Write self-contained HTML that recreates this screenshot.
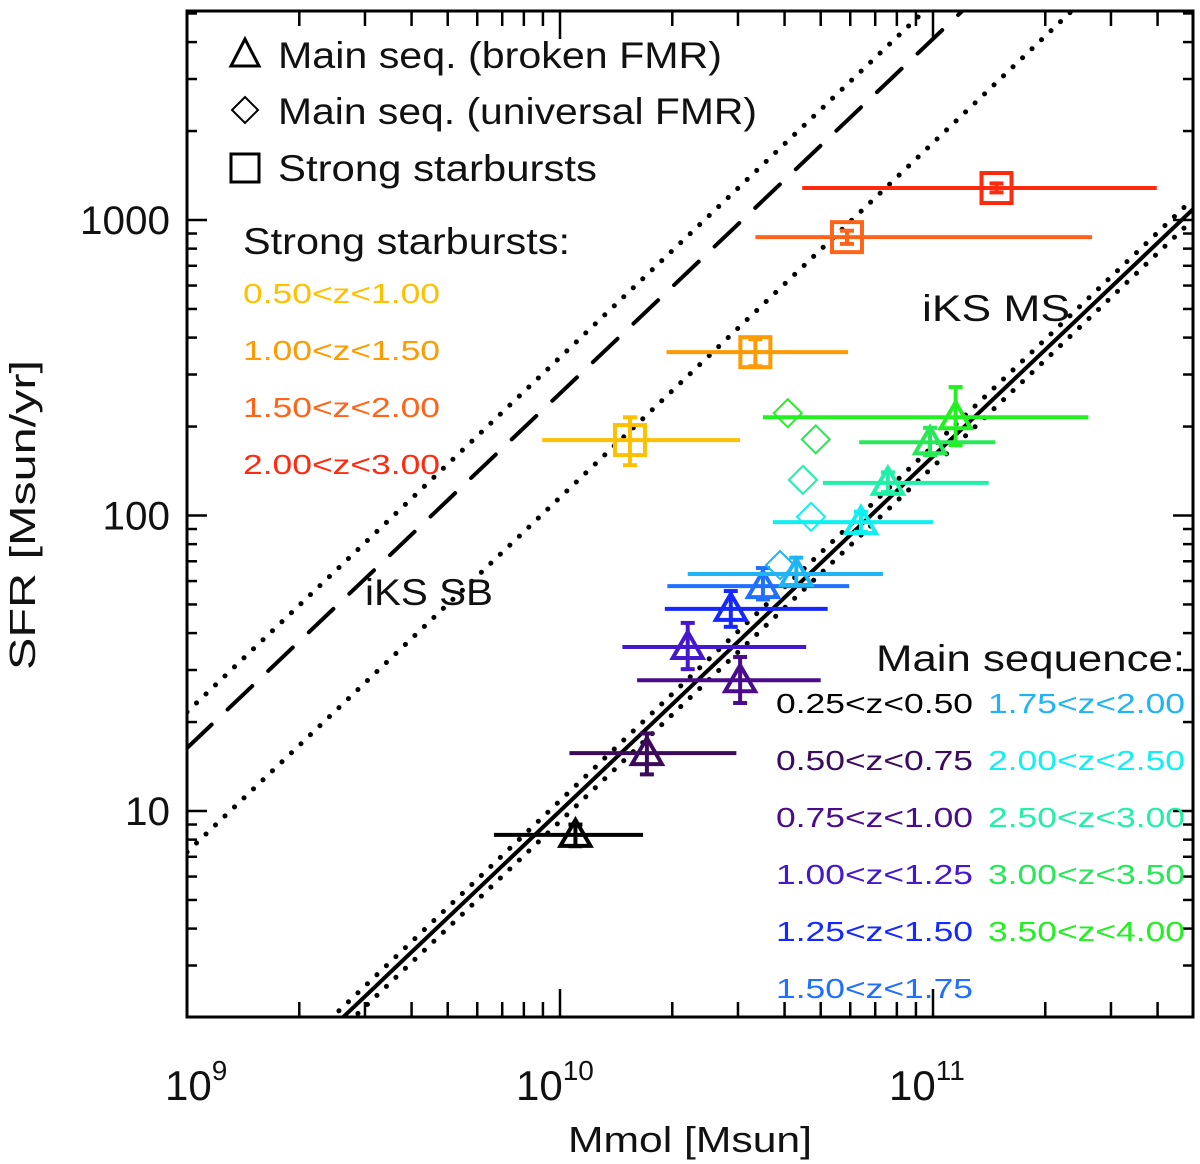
<!DOCTYPE html>
<html><head><meta charset="utf-8"><style>
html,body{margin:0;padding:0;background:#fff;}
svg{display:block;font-family:"Liberation Sans",sans-serif;}
</style></head>
<body>
<svg id="chart" width="1200" height="1164" viewBox="0 0 1200 1164" xmlns="http://www.w3.org/2000/svg">
<rect x="0" y="0" width="1200" height="1164" fill="#fff"/>
</svg>
<script>
// ---- data ----
const msLabels = ["0.25<z<0.50","0.50<z<0.75","0.75<z<1.00","1.00<z<1.25","1.25<z<1.50","1.50<z<1.75","1.75<z<2.00","2.00<z<2.50","2.50<z<3.00","3.00<z<3.50","3.50<z<4.00"];
const msColors = ["#000000","#3c0a5a","#4a0c8c","#4418cc","#1428ff","#2070ff","#20b4f4","#10f0f0","#20f0a8","#28e858","#22f020"];
const msMass = [1.10e10,1.71e10,3.04e10,2.20e10,2.87e10,3.50e10,4.30e10,6.41e10,7.57e10,9.82e10,1.15e11];
const msMassLo = [6.65e9,1.06e10,1.61e10,1.47e10,1.91e10,1.94e10,2.20e10,3.72e10,5.07e10,6.34e10,3.50e10];
const msMassHi = [1.67e10,2.97e10,5.0e10,4.57e10,5.22e10,5.96e10,7.34e10,1.0e11,1.41e11,1.47e11,2.61e11];
const msSFR = [8.3,15.7,27.7,35.9,48.3,57.7,63.4,95,129,177,215];
const msSFRLo = [7.6,13.3,23.2,30.2,42.0,52.0,58.0,88,120,160,173];
const msSFRHi = [9.0,18.3,33.2,43.3,55.5,66.4,72.0,103,140,198,272];
const diaMass = [3.89e10,4.71e10,4.48e10,4.85e10,4.08e10];
const diaSFR = [68,99,132,181,222];
const diaColors = ["#20b4f4","#10f0f0","#20f0a8","#28e858","#22f020"];
const sbLabels = ["0.50<z<1.00","1.00<z<1.50","1.50<z<2.00","2.00<z<3.00"];
const sbColors = ["#ffc000","#ff9a00","#ff6418","#ff2a10"];
const sbMass = [1.54e10,3.34e10,5.88e10,1.48e11];
const sbMassLo = [8.96e9,1.93e10,3.34e10,4.46e10];
const sbMassHi = [3.04e10,5.92e10,2.67e11,3.98e11];
const sbSFR = [180,357,875,1283];
const sbSFRLo = [148,320,830,1240];
const sbSFRHi = [215,395,920,1330];
const xTicks = [1e9,1e10,1e11];
const xTickExp = ["9","10","11"];
const yTicks = [10,100,1000];
const yTickLabels = ["10","100","1000"];
const lineSlope = 1.2;
const msIntercept = -11.0;
const sbIntercept = -9.587;
const dotUpperIntercept = -9.465;
const dotLowerIntercept = -9.939;

// ---- axes ----
const L=187,R=1193,T=11,B=1017;
const xMin=9, xDec=373, yRef=1, yRefPx=811, yDec=295.5;
const X=m=>L+(Math.log10(m)-xMin)*xDec;
const Y=s=>yRefPx-(Math.log10(s)-yRef)*yDec;
const lxMax=xMin+(R-L)/xDec;
const lyMin=yRef-(B-yRefPx)/yDec, lyMax=yRef+(yRefPx-T)/yDec;

const svg=document.getElementById('chart');
const NS="http://www.w3.org/2000/svg";
function mk(tag,attrs,parent){const e=document.createElementNS(NS,tag);for(const k in attrs)e.setAttribute(k,attrs[k]);(parent||svg).appendChild(e);return e;}

const defs=mk('defs',{});
const cp=mk('clipPath',{id:'plotclip'},defs);
mk('rect',{x:L,y:T,width:R-L,height:B-T},cp);
const plot=mk('g',{'clip-path':'url(#plotclip)'});



function relLine(icpt,dash,w,name){
  const x1=xMin,x2=lxMax;
  const e=mk('line',{x1:X(10**x1),y1:Y(10**(lineSlope*x1+icpt)),x2:X(10**x2),y2:Y(10**(lineSlope*x2+icpt)),stroke:'#000','stroke-width':w,'stroke-dasharray':dash,'stroke-linecap':'round'},plot);
  
  
}
relLine(dotUpperIntercept,'0.1 13',5,'sb-upper-dotted-line');
relLine(sbIntercept,'34 22',4,'iks-sb-dashed-line');
relLine(dotLowerIntercept,'0.1 13',5,'sb-lower-dotted-line');
relLine(msIntercept+0.035,'0.1 13',5,'ms-upper-dotted-line');
relLine(msIntercept-0.035,'0.1 13',5,'ms-lower-dotted-line');
relLine(msIntercept,'',4,'iks-ms-solid-line');

for(let i=0;i<msMass.length;i++){
  const g=mk('g',{stroke:msColors[i],'stroke-width':4,fill:'none'},plot);
  
  
  const cx=X(msMass[i]),cy=Y(msSFR[i]);
  mk('line',{x1:X(msMassLo[i]),y1:cy,x2:X(msMassHi[i]),y2:cy},g);
  mk('line',{x1:cx,y1:Y(msSFRLo[i]),x2:cx,y2:Y(msSFRHi[i])},g);
  mk('line',{x1:cx-7,y1:Y(msSFRLo[i]),x2:cx+7,y2:Y(msSFRLo[i])},g);
  mk('line',{x1:cx-7,y1:Y(msSFRHi[i]),x2:cx+7,y2:Y(msSFRHi[i])},g);
  mk('polygon',{points:`${cx},${cy-15} ${cx-15},${cy+11} ${cx+15},${cy+11}`},g);
}
for(let i=0;i<diaMass.length;i++){
  const cx=X(diaMass[i]),cy=Y(diaSFR[i]);
  const d=mk('polygon',{points:`${cx},${cy-14} ${cx+14},${cy} ${cx},${cy+14} ${cx-14},${cy}`,fill:'none',stroke:diaColors[i],'stroke-width':2},plot);
  
  
}
for(let i=0;i<sbMass.length;i++){
  const g=mk('g',{stroke:sbColors[i],'stroke-width':4,fill:'none'},plot);
  
  
  const cx=X(sbMass[i]),cy=Y(sbSFR[i]);
  mk('line',{x1:X(sbMassLo[i]),y1:cy,x2:X(sbMassHi[i]),y2:cy},g);
  mk('line',{x1:cx,y1:Y(sbSFRLo[i]),x2:cx,y2:Y(sbSFRHi[i])},g);
  mk('line',{x1:cx-7,y1:Y(sbSFRLo[i]),x2:cx+7,y2:Y(sbSFRLo[i])},g);
  mk('line',{x1:cx-7,y1:Y(sbSFRHi[i]),x2:cx+7,y2:Y(sbSFRHi[i])},g);
  mk('rect',{x:cx-15,y:cy-15,width:30,height:30},g);
}

const fr=mk('rect',{x:L,y:T,width:R-L,height:B-T,fill:'none',stroke:'#000','stroke-width':3});


const tk=mk('g',{stroke:'#000','stroke-width':2.5});


for(let d=9;d<=11;d++)for(let k=1;k<=9;k++){
  const lm=d+Math.log10(k); if(lm>lxMax)continue;
  const x=L+(lm-xMin)*xDec, len=k==1?28:15;
  mk('line',{x1:x,y1:B,x2:x,y2:B-len},tk);
  mk('line',{x1:x,y1:T,x2:x,y2:T+len},tk);
}
for(let d=0;d<=3;d++)for(let k=1;k<=9;k++){
  const ly=d+Math.log10(k); if(ly<lyMin||ly>lyMax)continue;
  const y=yRefPx-(ly-yRef)*yDec, len=k==1?20:10;
  mk('line',{x1:L,y1:y,x2:L+len,y2:y},tk);
  mk('line',{x1:R,y1:y,x2:R-len,y2:y},tk);
}
function txt(s,attrs,name,parent){const t=mk('text',attrs,parent);t.textContent=s;
  return t;}
for(let i=0;i<yTicks.length;i++){
  txt(yTickLabels[i],{x:170,y:Y(yTicks[i])+14,'font-size':40,'text-anchor':'end',fill:'#111',textLength:22.5*yTickLabels[i].length,lengthAdjust:'spacingAndGlyphs'},'y-tick-label');
}
for(let i=0;i<xTicks.length;i++){
  const x=X(xTicks[i]);
  const t=txt('10',{x:i==0?x-22:x-44,y:1100,'font-size':42,fill:'#111'},'x-tick-label');
  const e=mk('tspan',{dy:-20,'font-size':28},t);e.textContent=xTickExp[i];
}
txt('Mmol [Msun]',{x:568,y:1152,'font-size':36,fill:'#111',textLength:244,lengthAdjust:'spacingAndGlyphs'},'x-axis-title');
txt('SFR [Msun/yr]',{x:0,y:0,'font-size':36,fill:'#111',textLength:310,lengthAdjust:'spacingAndGlyphs',transform:'translate(35,670) rotate(-90)'},'y-axis-title');

txt('iKS MS',{x:922,y:321,'font-size':37,fill:'#111',textLength:148,lengthAdjust:'spacingAndGlyphs'},'iks-ms-label');
txt('iKS SB',{x:365,y:605,'font-size':37,fill:'#111',textLength:128,lengthAdjust:'spacingAndGlyphs'},'iks-sb-label');

const lg=mk('g',{stroke:'#000',fill:'none','stroke-width':3});


mk('polygon',{points:'245,39 231,66 259,66'},lg);
mk('polygon',{points:'245,97 258,110 245,123 232,110','stroke-width':2},lg);
mk('rect',{x:231,y:154,width:28,height:28},lg);
txt('Main seq. (broken FMR)',{x:278,y:68,'font-size':37,fill:'#111',textLength:444,lengthAdjust:'spacingAndGlyphs'},'legend-broken-fmr');
txt('Main seq. (universal FMR)',{x:278,y:124,'font-size':37,fill:'#111',textLength:479,lengthAdjust:'spacingAndGlyphs'},'legend-universal-fmr');
txt('Strong starbursts',{x:278,y:181,'font-size':37,fill:'#111',textLength:319,lengthAdjust:'spacingAndGlyphs'},'legend-strong-starbursts');
txt('Strong starbursts:',{x:243,y:254,'font-size':37,fill:'#111',textLength:327,lengthAdjust:'spacingAndGlyphs'},'sb-legend-title');
for(let i=0;i<sbLabels.length;i++){
  txt(sbLabels[i],{x:243,y:303+57*i,'font-size':28,fill:sbColors[i],textLength:197,lengthAdjust:'spacingAndGlyphs'},'sb-legend-entry');
}
txt('Main sequence:',{x:876,y:671,'font-size':37,fill:'#111',textLength:309,lengthAdjust:'spacingAndGlyphs'},'ms-legend-title');
for(let i=0;i<msLabels.length;i++){
  const col=i<6?0:1,row=i<6?i:i-6;
  txt(msLabels[i],{x:col?988:776,y:713+57*row,'font-size':28,fill:msColors[i],textLength:197,lengthAdjust:'spacingAndGlyphs'},'ms-legend-entry');
}
</script>
</body></html>
